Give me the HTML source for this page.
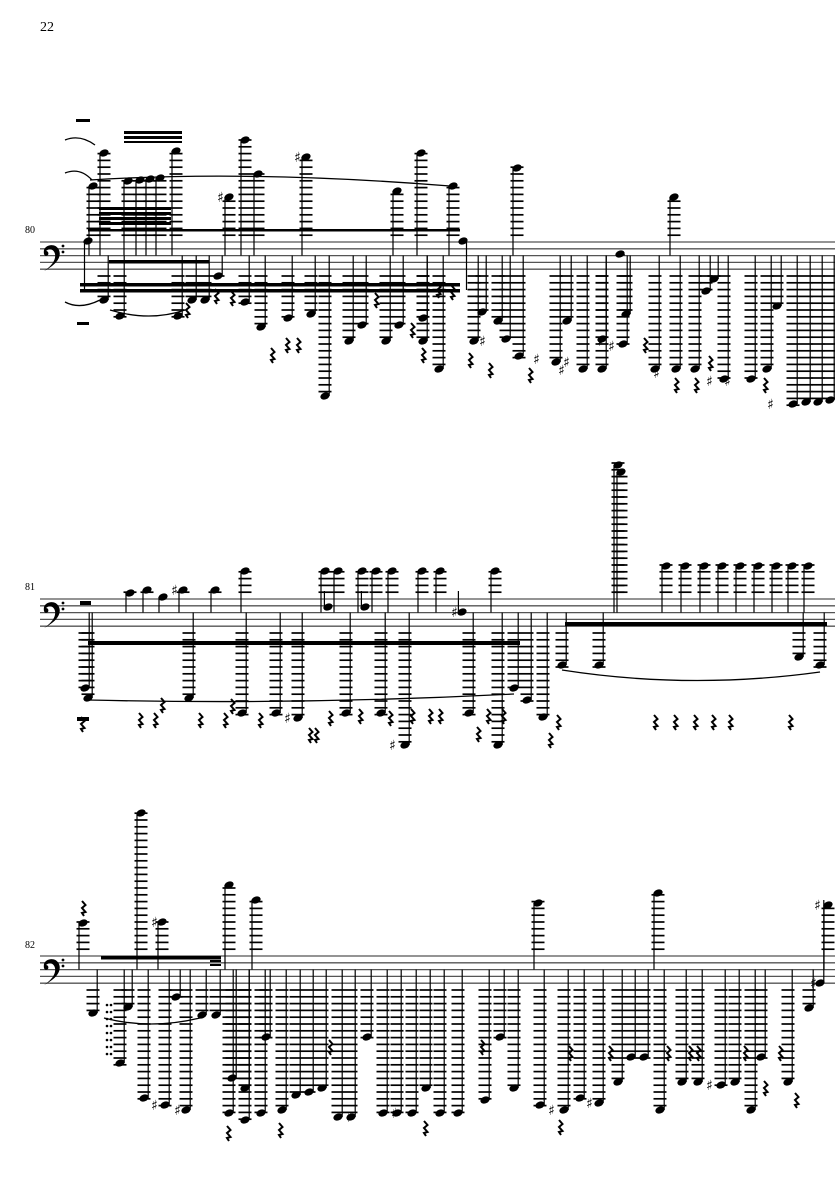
<!DOCTYPE html>
<html><head><meta charset="utf-8">
<style>
html,body{margin:0;padding:0;background:#fff;width:835px;height:1181px;overflow:hidden}
svg{position:absolute;left:0;top:0}
.t{font-family:"Liberation Serif",serif;fill:#000}
</style></head><body>
<svg id="s" width="835" height="1181" viewBox="0 0 835 1181" xmlns="http://www.w3.org/2000/svg">
<text class="t" x="40" y="31" font-size="14">22</text>
<text class="t" x="25" y="233" font-size="10">80</text>
<text class="t" x="25" y="590" font-size="10">81</text>
<text class="t" x="25" y="948" font-size="10">82</text>
<g id="g"></g>
</svg>
<script>
var g=document.getElementById('g'),h='';
var S=[242,599,956];
function L(x1,y1,x2,y2,w,c){h+='<line x1="'+x1+'" y1="'+y1+'" x2="'+x2+'" y2="'+y2+'" stroke="'+(c||'#000')+'" stroke-width="'+(w||1)+'"/>';}
function R(x,y,w,hh){h+='<rect x="'+x+'" y="'+y+'" width="'+w+'" height="'+hh+'" fill="#000"/>';}
function head(x,y){h+='<ellipse cx="'+x+'" cy="'+y+'" rx="4.8" ry="3.4" transform="rotate(-22 '+x+' '+y+')" fill="#000"/>';}
function clef(s){var y=s;h+='<path d="M44 '+(y+8)+' c2 -6 12 -7 15 0 c3 7 -3 15 -15 21 c9 -6 12 -12 11 -17 c-1 -5 -6 -6 -9 -3 c2 0 3 2 2 4 c-2 2 -5 1 -4 -5z" fill="#000"/><circle cx="63" cy="'+(y+4)+'" r="1.4"/><circle cx="63" cy="'+(y+10)+'" r="1.4"/>';}
function staff(s){for(var i=0;i<5;i++)L(40,s+i*6.8,835,s+i*6.8,1.3,'#555');clef(s);}
function dn(s,x,y){var b=s+27.2;for(var ly=b+6.8;ly<=y+2;ly+=6.8)L(x-6.5,ly,x+6.5,ly,1.7);head(x,y);L(x+4.2,y,x+4.2,s+13.6,1.2);}
function up(s,x,y){for(var ly=s-6.8;ly>=y-2;ly-=6.8)L(x-6.5,ly,x+6.5,ly,1.7);head(x,y);L(x-4,y,x-4,s+13.6,1.2);}
function rest(x,y){h+='<path d="M'+(x-1)+' '+(y-7)+' l3.5 4 l-3.5 3 l3.5 4 l-3.5 1 l2 3" fill="none" stroke="#000" stroke-width="2"/>';}
function sh(x,y){h+='<text x="'+(x-4)+'" y="'+(y+5)+'" font-family="DejaVu Sans,sans-serif" font-size="14" font-weight="bold">♯</text>';}
S.forEach(staff);
// system 1
var s=S[0];
[[104,153],[176,151],[93,186],[128,181],[140,180],[150,179],[160,178],[245,140],[258,174],[306,157],[229,197],[397,191],[421,153],[453,186],[517,168],[674,197]].forEach(function(p){up(s,p[0],p[1]);});
head(88,241);L(84.5,241,84.5,290,1.2);head(463,241);L(466.5,241,466.5,290,1.2);
R(124,131,58,3);R(124,136,58,3);R(124,141,58,2);
R(99,207,72,3);R(99,212,72,3);R(99,217,72,3);R(99,222,72,3);
R(88,229,372,2.5);
R(109,260,100,3.5);R(80,283,380,3.5);R(80,289,380,3.5);
[[104,300],[120,316],[178,316],[192,300],[205,300],[218,276],[245,302],[261,327],[288,318],[311,314],[325,396],[349,341],[362,325],[386,341],[399,325],[423,318],[423,341],[439,369],[474,341],[482,312],[498,321],[506,339],[519,356],[556,362],[567,321],[583,369],[602,369],[602,339],[620,254],[623,344],[626,314],[655,369],[676,369],[695,369],[706,291],[714,279],[724,379],[751,379],[767,369],[777,306],[793,404],[806,402],[818,402],[830,400]].forEach(function(p){dn(s,p[0],p[1]);});
R(76,119,14,3);
[[187,310],[216,296],[232,298],[272,355],[287,345],[298,345],[376,300],[412,330],[423,355],[438,290],[452,292],[470,360],[490,370],[530,375],[645,345],[676,385],[696,385],[710,363],[765,385]].forEach(function(p){rest(p[0],p[1]);});
[[229,197],[306,157],[491,341],[545,359],[570,370],[575,362],[609,341],[620,346],[665,373],[718,381],[736,381],[779,404]].forEach(function(p){sh(p[0]-8,p[1]);});
h+='<path d="M90 180 Q250 170 450 186" fill="none" stroke="#000" stroke-width="1.3"/>';
h+='<path d="M110 310 Q150 322 185 310" fill="none" stroke="#000" stroke-width="1.3"/>';
h+='<path d="M65 140 Q80 134 95 145 M65 173 Q80 167 92 180 M65 302 Q80 310 100 300" fill="none" stroke="#000" stroke-width="1.3"/>';
R(77,322,12,3);
// system 2
s=S[1];
R(80,601,11,4);
[[130,593],[147,590],[163,597],[183,590],[215,590],[245,571],[325,571],[338,571],[362,571],[376,571],[392,571],[422,571],[440,571],[495,571],[618,465],[621,472],[666,566],[685,566],[704,566],[722,566],[740,566],[758,566],[776,566],[792,566],[808,566]].forEach(function(p){up(s,p[0],p[1]);});
[[328,607],[365,607],[462,612]].forEach(function(p){head(p[0],p[1]);L(p[0]-3.6,p[1],p[0]-3.6,s-8,1.2);});
R(88,641,432,4);R(565,622,262,4);
[[85,688],[88,698],[189,698],[242,713],[276,713],[298,718],[346,713],[381,713],[405,745],[469,713],[498,745],[514,688],[527,700],[543,717],[562,665],[599,665],[799,657],[820,665]].forEach(function(p){dn(s,p[0],p[1]);});
[[82,724],[140,720],[155,720],[162,705],[200,720],[225,720],[232,706],[260,720],[310,735],[316,735],[330,718],[360,716],[390,718],[412,716],[430,716],[440,716],[478,734],[488,716],[503,716],[558,722],[550,740],[655,722],[675,722],[695,722],[713,722],[730,722],[790,722]].forEach(function(p){rest(p[0],p[1]);});
sh(175,590);sh(455,612);sh(288,718);sh(393,745);
h+='<path d="M88 700 Q300 705 514 694 M562 670 Q690 690 820 672" fill="none" stroke="#000" stroke-width="1.3"/>';
R(77,717,12,4);
// system 3
s=S[2];
[[83,923],[141,813],[162,922],[229,885],[256,900],[538,903],[658,893],[828,905]].forEach(function(p){up(s,p[0],p[1]);});
head(820,983);L(823.8,983,823.8,900,1.2);
R(101,956,120,3.5);R(210,960,11,2);R(210,964,11,2);
[[93,1013],[128,1007],[176,997],[202,1015],[216,1015],[120,1063],[144,1098],[165,1105],[186,1110],[229,1113],[245,1120],[261,1113],[232,1078],[245,1088],[266,1037],[282,1110],[296,1095],[309,1092],[322,1088],[338,1117],[351,1117],[367,1037],[383,1113],[397,1113],[412,1113],[426,1088],[440,1113],[458,1113],[485,1100],[500,1037],[514,1088],[540,1105],[564,1110],[580,1098],[599,1103],[618,1082],[631,1057],[644,1057],[660,1110],[682,1082],[698,1082],[721,1085],[735,1082],[751,1110],[761,1057],[788,1082],[809,1008]].forEach(function(p){dn(s,p[0],p[1]);});
[[83,908],[228,1133],[280,1130],[330,1047],[425,1128],[482,1047],[560,1127],[570,1053],[610,1053],[668,1053],[690,1053],[698,1053],[745,1053],[765,1088],[780,1053],[796,1100]].forEach(function(p){rest(p[0],p[1]);});
sh(155,922);sh(155,1105);sh(178,1110);sh(350,1117);sh(395,1113);sh(552,1110);sh(590,1103);sh(710,1085);sh(814,983);sh(818,905);
h+='<path d="M104 1018 Q150 1030 200 1018" fill="none" stroke="#000" stroke-width="1.3"/>';
for(var i=0;i<8;i++){h+='<circle cx="107" cy="'+(1005+i*7)+'" r="1.3"/><circle cx="111" cy="'+(1005+i*7)+'" r="1.3"/>';}
g.innerHTML=h;
</script>
</body></html>
